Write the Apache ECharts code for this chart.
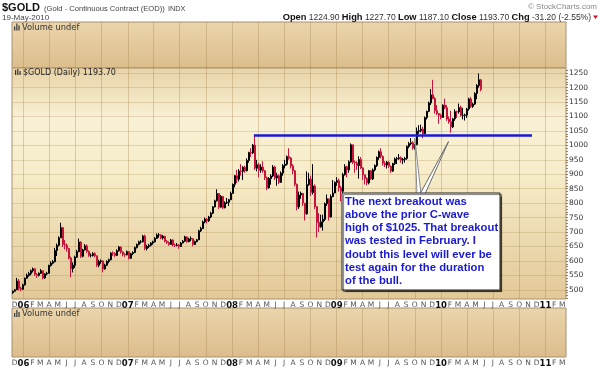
<!DOCTYPE html>
<html><head><meta charset="utf-8">
<script src="https://cdn.jsdelivr.net/npm/echarts@6/dist/echarts.min.js"></script>
<style>html,body{margin:0;padding:0;background:#fff}#c{width:600px;height:371px}</style>
</head><body><div id="c"></div>
<script>
// ---- data (weekly bars) ----
const firstWeek = '2005-11-25';
const firstOpen = 490;
const closes = [495,500,530,505,502,517,
540,550,556,566,573,553,550,557,566,541,555,557,584,592,597,636,654,680,715,657,654,643,610,573,585,613,632,665,616,638,652,633,619,619,625,618,585,598,600,572,585,598,604,627,626,619,635,648,631,623,621,632,
609,625,629,646,657,666,666,686,643,650,654,662,666,678,690,690,679,685,668,664,657,672,655,654,655,650,662,668,683,667,676,677,657,667,673,704,712,735,745,739,752,765,787,808,833,786,823,784,801,803,812,834,
865,895,883,911,910,924,912,948,975,974,1001,921,933,914,925,912,888,853,885,894,925,887,895,872,904,930,935,961,956,929,912,865,787,828,834,800,763,864,883,837,859,788,733,718,735,744,798,815,752,823,835,872,
878,853,841,899,926,915,943,1002,942,939,930,951,922,898,885,870,912,884,915,930,958,978,962,938,932,942,928,911,937,953,954,957,949,952,955,996,1006,1009,991,1003,1049,1051,1056,1040,1096,1118,1147,1175,1162,1120,1110,1104,
1097,1139,1130,1091,1082,1064,1092,1117,1116,1131,1104,1104,1105,1126,1161,1135,1143,1180,1207,1227,1193.7];
const highs = [497,503,541,537,510,521,
542,556,562,570,577,574,558,560,572,566,557,562,587,598,603,645,660,685,732,718,672,660,645,615,595,618,638,677,668,642,658,657,636,626,630,630,618,604,605,601,590,602,608,630,633,630,640,652,650,634,627,636,
634,628,633,650,660,670,672,690,691,656,659,665,670,682,695,696,692,690,687,672,668,676,675,660,662,658,665,672,687,685,680,685,678,670,676,708,718,740,750,748,756,770,790,812,848,835,828,825,806,818,815,840,
868,898,915,918,935,928,930,955,978,990,1005,1034,950,940,935,945,915,892,890,900,932,930,905,900,910,935,950,965,990,960,935,915,868,840,840,835,800,910,905,895,935,865,790,765,760,760,802,830,815,830,880,875,
890,885,860,905,935,930,948,1007,1000,948,945,962,960,925,895,890,915,915,920,934,962,982,990,965,945,946,945,930,940,958,960,970,962,957,960,1000,1012,1025,1015,1005,1062,1070,1072,1065,1100,1120,1152,1195,1227,1168,1140,1112,
1110,1142,1162,1140,1100,1120,1095,1125,1120,1145,1138,1130,1110,1130,1165,1168,1148,1184,1212,1249,1230];
const lows = [486,493,500,498,495,500,
514,538,545,550,560,548,541,546,555,536,538,550,556,580,588,595,617,650,680,648,640,632,605,543,560,576,610,630,610,612,636,628,614,612,615,612,579,578,590,560,570,582,592,602,617,614,617,632,625,616,614,619,
605,607,620,627,643,654,660,664,637,636,644,650,656,664,676,680,675,674,664,658,652,656,650,648,650,642,648,660,666,663,664,668,650,655,664,672,700,710,730,730,735,748,762,785,805,780,785,780,782,797,790,810,
832,855,870,875,895,880,905,910,940,960,970,915,910,890,905,905,880,845,850,864,890,880,860,866,870,895,920,930,950,920,900,858,775,780,815,790,740,760,860,825,830,780,681,700,715,705,738,790,740,750,820,835,
860,840,806,835,895,890,905,940,935,905,915,885,918,880,865,862,865,880,880,910,925,950,955,930,925,920,922,905,908,932,935,950,940,935,940,950,990,1000,985,985,1000,1040,1045,1025,1040,1090,1115,1140,1160,1110,1105,1075,
1090,1096,1125,1085,1075,1044,1060,1085,1095,1110,1100,1090,1086,1095,1120,1130,1130,1140,1160,1200,1187];
const priceTicks = [500,550,600,650,700,750,800,850,900,950,1000,1050,1100,1150,1200,1250];
const monthLetters = ['J','F','M','A','M','J','J','A','S','O','N','D'];
const axisStart = '2005-11-22', axisEnd = '2011-03-14';
const priceMin = 468, priceMax = 1268;
const breakoutLevel = 1035, breakoutFrom = '2008-03-17', breakoutTo = '2010-11-15';
const calloutTips = [['2009-10-01', 1025], ['2010-01-27', 1013]];
const calloutLines = ['The next breakout was','above the prior C-wave','high of $1025. That breakout','was tested in February. I','doubt this level will ever be','test again for the duration','of the bull.'];

// ---- build ----
const DAY = 86400000;
const ts = s => Date.parse(s + 'T00:00:00Z');
const t0 = ts(firstWeek);
const ohlc = closes.map((c, i) => [t0 + i * 7 * DAY, i ? closes[i - 1] : firstOpen, c, lows[i], highs[i]]);
const xMin = ts(axisStart), xMax = ts(axisEnd);
const monthTicks = [];
for (let y = 2005, m = 11; ; ) { const t = Date.UTC(y, m, 1); if (t > xMax) break; monthTicks.push(t); m++; if (m > 11) { m = 0; y++; } }
const quarterTicks = monthTicks.filter(t => new Date(t).getUTCMonth() % 3 === 0);
const minorPriceTicks = []; for (let v = 470; v <= 1260; v += 10) minorPriceTicks.push(v);

const FONT = 'DejaVu Sans';
const gridLine = { show: true, lineStyle: { color: 'rgba(170,135,80,0.28)', width: 1 } };
const vLine = { show: true, lineStyle: { color: 'rgba(160,125,70,0.32)', width: 1 } };

function monthLabel(v) {
  const d = new Date(v); const m = d.getUTCMonth();
  if (m === 0) return '{y|' + String(d.getUTCFullYear()).slice(2) + '}';
  return monthLetters[m];
}
const labelAxisBase = (grid) => ({
  type: 'value', gridIndex: grid, min: xMin, max: xMax, position: 'bottom',
  axisLine: { show: false }, splitLine: { show: false },
  axisTick: { show: false, customValues: monthTicks },
  axisLabel: { customValues: monthTicks, formatter: monthLabel, margin: 2, fontSize: 7.5, color: '#555', fontFamily: FONT,
    rich: { y: { fontSize: 8.5, fontWeight: 'bold', color: '#111', fontFamily: FONT } } }
});
const splitAxis = (grid) => ({
  type: 'value', gridIndex: grid, min: xMin, max: xMax, position: 'bottom',
  axisLine: { show: false }, axisLabel: { show: false },
  axisTick: { show: false, customValues: quarterTicks }, splitLine: vLine
});

const panelBg = new echarts.graphic.LinearGradient(0, 0, 0, 1, [
  { offset: 0, color: '#e8d3a7' }, { offset: 0.22, color: '#f9f1d5' }, { offset: 0.45, color: '#f7edca' }, { offset: 1, color: '#e2c897' }]);
const volBg = new echarts.graphic.LinearGradient(0, 0, 0, 1, [
  { offset: 0, color: '#ead5ab' }, { offset: 1, color: '#dcbd8c' }]);

const chart = echarts.init(document.getElementById('c'), null, { renderer: 'canvas' });
const option = {
  animation: false,
  backgroundColor: '#fff',
  grid: [
    { left: 12, right: 34, top: 22, height: 46, show: true, backgroundColor: volBg, borderColor: '#a89070', borderWidth: 1 },
    { left: 12, right: 34, top: 68, height: 231, show: true, backgroundColor: panelBg, borderColor: '#a89070', borderWidth: 1 },
    { left: 12, right: 34, top: 308, height: 49, show: true, backgroundColor: volBg, borderColor: '#a89070', borderWidth: 1 }
  ],
  xAxis: [splitAxis(0), splitAxis(1), labelAxisBase(1), splitAxis(2), labelAxisBase(2)],
  yAxis: [
    { type: 'value', gridIndex: 0, min: 0, max: 1, axisLabel: { show: false }, axisTick: { show: false }, axisLine: { show: false }, splitLine: { show: false } },
    { type: 'value', gridIndex: 1, position: 'right', min: priceMin, max: priceMax,
      axisLine: { show: false }, axisTick: { show: false, customValues: priceTicks }, splitLine: gridLine,
      axisLabel: { customValues: priceTicks, formatter: v => String(v), margin: 3, fontSize: 7.5, color: '#333', fontFamily: FONT } },
    { type: 'value', gridIndex: 1, position: 'right', min: priceMin, max: priceMax,
      axisLine: { show: false }, axisLabel: { show: false }, splitLine: { show: false },
      axisTick: { show: true, customValues: minorPriceTicks, length: 2, lineStyle: { color: '#9a8060' } } },
    { type: 'value', gridIndex: 2, min: 0, max: 1, axisLabel: { show: false }, axisTick: { show: false }, axisLine: { show: false }, splitLine: { show: false } }
  ],
  series: [{
    type: 'candlestick', xAxisIndex: 1, yAxisIndex: 1, data: ohlc, encode: { x: 0, y: [1, 2, 3, 4] },
    barWidth: 2.2,
    itemStyle: { color: '#000', color0: '#c8143a', borderColor: '#000', borderColor0: '#c8143a', borderWidth: 1 },
    markLine: { silent: true, symbol: 'none', animation: false, label: { show: false },
      lineStyle: { color: '#1818d8', width: 2.5, type: 'solid' },
      data: [[{ coord: [ts(breakoutFrom), breakoutLevel] }, { coord: [ts(breakoutTo), breakoutLevel] }]] }
  }]
};
chart.setOption(option);

// ---- annotations & headers ----
const px = (d, v) => chart.convertToPixel({ xAxisIndex: 1, yAxisIndex: 1 }, [ts(d), v]);
const tip1 = px(calloutTips[0][0], calloutTips[0][1]);
const tip2 = px(calloutTips[1][0], calloutTips[1][1]);
const boxX = 342, boxY = 193, boxW = 158, boxH = 97;
const TF = 'Liberation Sans';
const small = (text, x, y, opt) => Object.assign({ type: 'text', x, y, style: Object.assign({ text, fontSize: 8, fontFamily: TF, fill: '#333', verticalAlign: 'middle' }, opt || {}) });
const volIcon = (x, y) => ({ type: 'group', x, y, children: [
  { type: 'rect', shape: { x: 0, y: 3, width: 1.3, height: 4 }, style: { fill: '#444' } },
  { type: 'rect', shape: { x: 2.2, y: 0, width: 1.3, height: 7 }, style: { fill: '#444' } },
  { type: 'rect', shape: { x: 4.4, y: 2, width: 1.3, height: 5 }, style: { fill: '#444' } }] });

chart.setOption({ graphic: [
  { type: 'polygon', z: 50, shape: { points: [[417, boxY + 1], [421, boxY + 1], tip1] }, style: { fill: '#fff', stroke: '#8a8a8a', lineWidth: 1 } },
  { type: 'polygon', z: 50, shape: { points: [[420, boxY + 1], [425, boxY + 1], tip2] }, style: { fill: '#fff', stroke: '#6a6a6a', lineWidth: 1 } },
  { type: 'rect', z: 51, shape: { x: boxX, y: boxY, width: boxW, height: boxH }, style: { fill: '#fff', stroke: '#222', lineWidth: 1, shadowColor: 'rgba(0,0,0,0.55)', shadowOffsetX: 1.5, shadowOffsetY: 1.5, shadowBlur: 1 } },
  { type: 'text', z: 52, x: boxX + 3, y: boxY + 2, style: { text: calloutLines.join('\n'), fontSize: 11.3, fontWeight: 'bold', fontFamily: TF, fill: '#1a1ad0', lineHeight: 13.2, verticalAlign: 'top' } },
  small('$GOLD', 2, 8, { fontSize: 11, fontWeight: 'bold', fill: '#111' }),
  small('(Gold - Continuous Contract (EOD))', 44, 8.5, { fontSize: 7.6, fill: '#444' }),
  small('INDX', 168, 8.5, { fontSize: 7.3, fill: '#444' }),
  small('19-May-2010', 2, 17.5, { fontSize: 8, fill: '#444' }),
  small('\u00a9 StockCharts.com', 597, 6.5, { fontSize: 8, fill: '#888', align: 'right' }),
  { type: 'text', x: 591, y: 17.5, style: { align: 'right', verticalAlign: 'middle', fontFamily: TF, fontSize: 8.5, fill: '#333',
    text: '{b|Open} 1224.90 {b|High} 1227.70 {b|Low} 1187.10 {b|Close} 1193.70 {b|Chg} -31.20 (-2.55%)',
    rich: { b: { fontWeight: 'bold', fontSize: 9.3, fill: '#111', fontFamily: TF } } } },
  { type: 'polygon', shape: { points: [[593, 15.5], [598, 15.5], [595.5, 19]] }, style: { fill: '#d0102a' } },
  volIcon(14, 23.5), small('Volume undef', 22, 27.5, { fontFamily: FONT, fontSize: 8.3, fill: '#333' }),
  volIcon(14, 310), small('Volume undef', 22, 314, { fontFamily: FONT, fontSize: 8.3, fill: '#333' }),
  { type: 'group', x: 15, y: 69, children: [
    { type: 'rect', shape: { x: 0, y: 1, width: 1.2, height: 5 }, style: { fill: '#333' } },
    { type: 'rect', shape: { x: 2.2, y: 0, width: 1.2, height: 6 }, style: { fill: '#333' } },
    { type: 'rect', shape: { x: 4.4, y: 2, width: 1.2, height: 4 }, style: { fill: '#333' } }] },
  small('$GOLD (Daily) 1193.70', 23, 72.5, { fontFamily: FONT, fontSize: 8, fill: '#222' })
] });
</script></body></html>
